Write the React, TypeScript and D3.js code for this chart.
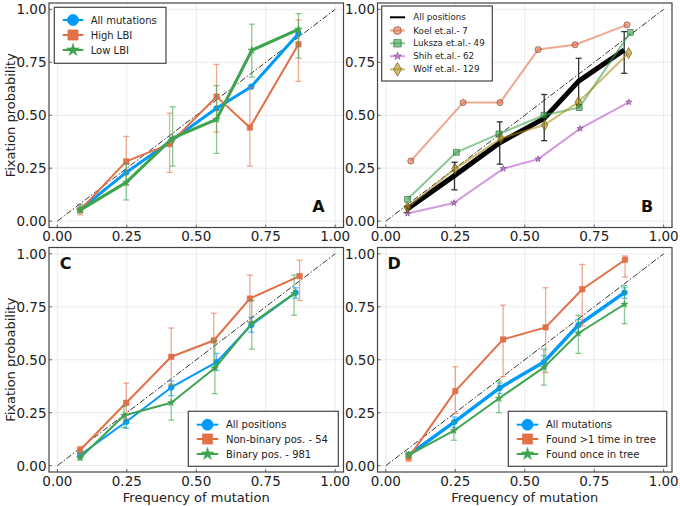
import React, { useEffect, useRef } from 'react';
import * as d3 from 'd3';

// tick values shared by every panel
const tickValues = [0, 0.25, 0.5, 0.75, 1];
const tickLabels = ['0.00', '0.25', '0.50', '0.75', '1.00'];

// Panel A
const aAllX = [0.082, 0.248, 0.41, 0.573, 0.698, 0.868];
const aAllY = [0.055, 0.23, 0.38, 0.533, 0.635, 0.886];
const aHighX = [0.082, 0.248, 0.404, 0.573, 0.693, 0.868];
const aHighY = [0.052, 0.282, 0.364, 0.588, 0.442, 0.835];
const aHighLo = [0.03, 0.17, 0.23, 0.42, 0.26, 0.66];
const aHighHi = [0.08, 0.4, 0.51, 0.74, 0.63, 0.95];
const aLowX = [0.082, 0.248, 0.415, 0.573, 0.7, 0.868];
const aLowY = [0.052, 0.183, 0.392, 0.481, 0.807, 0.906];
const aLowLo = [0.04, 0.1, 0.26, 0.32, 0.68, 0.77];
const aLowHi = [0.078, 0.27, 0.54, 0.64, 0.93, 0.98];

// Panel B
const bAllX = [0.075, 0.247, 0.41, 0.57, 0.694, 0.858];
const bAllY = [0.055, 0.215, 0.37, 0.485, 0.661, 0.808];
const bAllLo = [0.04, 0.148, 0.269, 0.38, 0.55, 0.698];
const bAllHi = [0.07, 0.278, 0.469, 0.598, 0.769, 0.895];
const bKoelX = [0.09, 0.278, 0.411, 0.548, 0.681, 0.868];
const bKoelY = [0.284, 0.56, 0.56, 0.81, 0.833, 0.927];
const bLukszaX = [0.078, 0.254, 0.407, 0.569, 0.696, 0.88];
const bLukszaY = [0.103, 0.325, 0.412, 0.5, 0.536, 0.891];
const bShihX = [0.078, 0.245, 0.423, 0.548, 0.699, 0.875];
const bShihY = [0.036, 0.086, 0.248, 0.293, 0.437, 0.562];
const bWolfX = [0.078, 0.249, 0.414, 0.572, 0.693, 0.874];
const bWolfY = [0.064, 0.247, 0.39, 0.455, 0.562, 0.794];

// Panel C
const cAllX = [0.082, 0.248, 0.41, 0.573, 0.698, 0.858];
const cAllY = [0.05, 0.207, 0.369, 0.489, 0.664, 0.817];
const cAllLo = [0.04, 0.176, 0.33, 0.45, 0.63, 0.79];
const cAllHi = [0.06, 0.24, 0.4, 0.53, 0.7, 0.84];
const cNonX = [0.082, 0.248, 0.41, 0.563, 0.693, 0.872];
const cNonY = [0.074, 0.297, 0.514, 0.591, 0.789, 0.895];
const cNonLo = [0.05, 0.22, 0.38, 0.46, 0.68, 0.78];
const cNonHi = [0.09, 0.39, 0.65, 0.72, 0.9, 0.97];
const cBinX = [0.082, 0.24, 0.41, 0.567, 0.7, 0.852];
const cBinY = [0.036, 0.237, 0.297, 0.461, 0.672, 0.812];
const cBinLo = [0.03, 0.18, 0.215, 0.34, 0.55, 0.71];
const cBinHi = [0.06, 0.28, 0.385, 0.59, 0.78, 0.9];

// Panel D
const dAllX = [0.082, 0.247, 0.41, 0.569, 0.693, 0.859];
const dAllY = [0.05, 0.207, 0.367, 0.489, 0.664, 0.817];
const dAllLo = [0.04, 0.18, 0.34, 0.46, 0.63, 0.79];
const dAllHi = [0.06, 0.23, 0.39, 0.52, 0.69, 0.84];
const dMultX = [0.082, 0.25, 0.422, 0.575, 0.707, 0.861];
const dMultY = [0.038, 0.352, 0.596, 0.653, 0.833, 0.972];
const dMultLo = [0.02, 0.246, 0.42, 0.44, 0.66, 0.89];
const dMultHi = [0.06, 0.467, 0.758, 0.84, 0.95, 0.99];
const dOnceX = [0.082, 0.245, 0.407, 0.569, 0.693, 0.859];
const dOnceY = [0.05, 0.165, 0.317, 0.464, 0.625, 0.762];
const dOnceLo = [0.04, 0.12, 0.25, 0.38, 0.53, 0.67];
const dOnceHi = [0.065, 0.21, 0.4, 0.55, 0.71, 0.85];

const BLUE = '#009afa';
const ORANGE = '#e36f47';
const GREEN = '#3ea44e';
const PURPLE = '#c271d2';
const GOLD = '#ac8e18';
const FONT = 'DejaVu Sans, sans-serif';

type Series = {
  name: string;
  xs: number[];
  ys: number[];
  lo?: number[];
  hi?: number[];
  color: string;
  width: number;
  alpha: number;
  marker: d3.SymbolType | null;
  size: number;
  legendSize: number;
  stroke?: string;
  errColor?: string;
};

type Panel = {
  box: [number, number, number, number];
  letter: string;
  letterAt: [number, number];
  yTitle: boolean;
  xTitle: boolean;
  series: Series[];
  legend: { box: [number, number, number, number]; rows: number[]; line: [number, number]; textX: number; font: number };
};

const panels: Panel[] = [
  {
    box: [49, 3, 343.5, 227.5],
    letter: 'A',
    letterAt: [0.94, 0.07],
    yTitle: true,
    xTitle: false,
    series: [
      { name: 'All mutations', xs: aAllX, ys: aAllY, color: BLUE, width: 3, alpha: 1, marker: d3.symbolCircle, size: 26, legendSize: 100 },
      { name: 'High LBI', xs: aHighX, ys: aHighY, lo: aHighLo, hi: aHighHi, color: ORANGE, width: 2, alpha: 1, marker: d3.symbolSquare, size: 30, legendSize: 105 },
      { name: 'Low LBI', xs: aLowX, ys: aLowY, lo: aLowLo, hi: aLowHi, color: GREEN, width: 3, alpha: 1, marker: d3.symbolStar, size: 18, legendSize: 50 },
    ],
    legend: { box: [54.3, 7.3, 166, 63.3], rows: [20, 35, 50], line: [62.7, 83.3], textX: 90.7, font: 10 },
  },
  {
    box: [377.5, 3, 672, 227.5],
    letter: 'B',
    letterAt: [0.94, 0.07],
    yTitle: false,
    xTitle: false,
    series: [
      { name: 'All positions', xs: bAllX, ys: bAllY, lo: bAllLo, hi: bAllHi, color: '#000', width: 5, alpha: 1, marker: null, size: 0, legendSize: 0, errColor: '#333' },
      { name: 'Koel et.al.- 7', xs: bKoelX, ys: bKoelY, color: ORANGE, width: 2, alpha: 0.6, marker: d3.symbolCircle, size: 30, legendSize: 50, stroke: '#6a3a2a' },
      { name: 'Luksza et.al.- 49', xs: bLukszaX, ys: bLukszaY, color: GREEN, width: 2, alpha: 0.6, marker: d3.symbolSquare, size: 34, legendSize: 55, stroke: '#1f5a28' },
      { name: 'Shih et.al.- 62', xs: bShihX, ys: bShihY, color: PURPLE, width: 2, alpha: 0.7, marker: d3.symbolStar, size: 12, legendSize: 18, stroke: '#6a3a74' },
      { name: 'Wolf et.al.- 129', xs: bWolfX, ys: bWolfY, color: GOLD, width: 2, alpha: 0.6, marker: d3.symbolDiamond, size: 36, legendSize: 55, stroke: '#4a3d0a' },
    ],
    legend: { box: [381.7, 6, 492.3, 81], rows: [17.3, 30.5, 43.3, 56.2, 69.3], line: [390, 405], textX: 413.3, font: 8.7 },
  },
  {
    box: [49, 247.5, 343.5, 472],
    letter: 'C',
    letterAt: [0.03, 0.955],
    yTitle: true,
    xTitle: true,
    series: [
      { name: 'All positions', xs: cAllX, ys: cAllY, lo: cAllLo, hi: cAllHi, color: BLUE, width: 2, alpha: 1, marker: d3.symbolCircle, size: 26, legendSize: 100 },
      { name: 'Non-binary pos. - 54', xs: cNonX, ys: cNonY, lo: cNonLo, hi: cNonHi, color: ORANGE, width: 2, alpha: 1, marker: d3.symbolSquare, size: 30, legendSize: 105 },
      { name: 'Binary pos. - 981', xs: cBinX, ys: cBinY, lo: cBinLo, hi: cBinHi, color: GREEN, width: 2, alpha: 1, marker: d3.symbolStar, size: 16, legendSize: 50 },
    ],
    legend: { box: [188.3, 411.3, 338.3, 466.3], rows: [424.7, 439, 454], line: [196.7, 218.3], textX: 226, font: 10 },
  },
  {
    box: [377.5, 247.5, 672, 472],
    letter: 'D',
    letterAt: [0.03, 0.955],
    yTitle: false,
    xTitle: true,
    series: [
      { name: 'All mutations', xs: dAllX, ys: dAllY, lo: dAllLo, hi: dAllHi, color: BLUE, width: 3.5, alpha: 1, marker: d3.symbolCircle, size: 26, legendSize: 100 },
      { name: 'Found >1 time in tree', xs: dMultX, ys: dMultY, lo: dMultLo, hi: dMultHi, color: ORANGE, width: 2, alpha: 1, marker: d3.symbolSquare, size: 30, legendSize: 105 },
      { name: 'Found once in tree', xs: dOnceX, ys: dOnceY, lo: dOnceLo, hi: dOnceHi, color: GREEN, width: 2, alpha: 1, marker: d3.symbolStar, size: 16, legendSize: 50 },
    ],
    legend: { box: [508.3, 411.3, 666.7, 466.3], rows: [424.7, 439, 454], line: [516.7, 538.3], textX: 546, font: 10 },
  },
];

const App = () => {
  const ref = useRef<SVGSVGElement | null>(null);

  useEffect(() => {
    const svg = d3.select(ref.current);
    svg.selectAll('*').remove();

    panels.forEach(p => {
      const [x0, y0, x1, y1] = p.box;
      const x = d3.scaleLinear().domain([-0.03, 1.03]).range([x0, x1]);
      const y = d3.scaleLinear().domain([-0.03, 1.03]).range([y1, y0]);
      const g = svg.append('g');

      // grid
      tickValues.forEach(t => {
        g.append('line').attr('x1', x(t)).attr('x2', x(t)).attr('y1', y0).attr('y2', y1)
          .attr('stroke', '#e6e6e6').attr('stroke-width', 0.8);
        g.append('line').attr('x1', x0).attr('x2', x1).attr('y1', y(t)).attr('y2', y(t))
          .attr('stroke', '#e6e6e6').attr('stroke-width', 0.8);
      });

      // diagonal y = x
      g.append('line')
        .attr('x1', x(0)).attr('y1', y(0)).attr('x2', x(1)).attr('y2', y(1))
        .attr('stroke', '#000').attr('stroke-width', 0.8)
        .attr('stroke-dasharray', '6,2,1.5,2');

      p.series.forEach(s => {
        const pts: [number, number][] = s.xs.map((v, i) => [x(v), y(s.ys[i])]);
        // error bars
        if (s.lo && s.hi) {
          const ec = s.errColor || s.color;
          const eo = s.errColor ? 1 : 0.6;
          s.xs.forEach((v, i) => {
            const cx = x(v);
            const lo = y(s.lo![i]);
            const hi = y(s.hi![i]);
            g.append('line').attr('x1', cx).attr('x2', cx).attr('y1', lo).attr('y2', hi)
              .attr('stroke', ec).attr('stroke-opacity', eo).attr('stroke-width', 1.3);
            [lo, hi].forEach(yy => {
              g.append('line').attr('x1', cx - 3).attr('x2', cx + 3).attr('y1', yy).attr('y2', yy)
                .attr('stroke', ec).attr('stroke-opacity', eo).attr('stroke-width', 1.3);
            });
          });
        }
        g.append('path')
          .attr('d', d3.line()(pts))
          .attr('fill', 'none')
          .attr('stroke', s.color)
          .attr('stroke-opacity', s.alpha)
          .attr('stroke-width', s.width)
          .attr('stroke-linejoin', 'round');
        if (s.marker) {
          const sym = d3.symbol().type(s.marker).size(s.size);
          pts.forEach(([px, py]) => {
            g.append('path')
              .attr('d', sym())
              .attr('transform', `translate(${px},${py})`)
              .attr('fill', s.color)
              .attr('fill-opacity', s.alpha)
              .attr('stroke', s.stroke || s.color)
              .attr('stroke-opacity', s.stroke ? 0.7 : 1)
              .attr('stroke-width', s.stroke ? 0.8 : 0.5);
          });
        }
      });

      // frame
      g.append('rect')
        .attr('x', x0).attr('y', y0).attr('width', x1 - x0).attr('height', y1 - y0)
        .attr('fill', 'none').attr('stroke', '#444').attr('stroke-width', 1.2);

      // tick marks and labels
      tickValues.forEach((t, i) => {
        g.append('line').attr('x1', x(t)).attr('x2', x(t)).attr('y1', y1).attr('y2', y1 - 3)
          .attr('stroke', '#444').attr('stroke-width', 0.8);
        g.append('line').attr('x1', x0).attr('x2', x0 + 3).attr('y1', y(t)).attr('y2', y(t))
          .attr('stroke', '#444').attr('stroke-width', 0.8);
        g.append('text')
          .attr('x', x(t)).attr('y', y1 + 9).attr('dy', '0.36em')
          .attr('text-anchor', 'middle')
          .attr('font-family', FONT).attr('font-size', 13.5).attr('fill', '#222')
          .text(tickLabels[i]);
        g.append('text')
          .attr('x', x0 - 2.5).attr('y', y(t)).attr('dy', '0.36em')
          .attr('text-anchor', 'end')
          .attr('font-family', FONT).attr('font-size', 13.5).attr('fill', '#222')
          .text(tickLabels[i]);
      });

      if (p.yTitle) {
        g.append('text')
          .attr('transform', `translate(10,${(y0 + y1) / 2}) rotate(-90)`)
          .attr('dy', '0.36em')
          .attr('text-anchor', 'middle')
          .attr('font-family', FONT).attr('font-size', 13).attr('fill', '#222')
          .text('Fixation probability');
      }
      if (p.xTitle) {
        g.append('text')
          .attr('x', (x0 + x1) / 2).attr('y', 497).attr('dy', '0.36em')
          .attr('text-anchor', 'middle')
          .attr('font-family', FONT).attr('font-size', 13).attr('fill', '#222')
          .text('Frequency of mutation');
      }

      // panel letter
      g.append('text')
        .attr('x', x(p.letterAt[0])).attr('y', y(p.letterAt[1])).attr('dy', '0.36em')
        .attr('text-anchor', 'middle')
        .attr('font-family', FONT).attr('font-size', 16).attr('font-weight', 'bold').attr('fill', '#111')
        .text(p.letter);

      // legend
      const L = p.legend;
      g.append('rect')
        .attr('x', L.box[0]).attr('y', L.box[1])
        .attr('width', L.box[2] - L.box[0]).attr('height', L.box[3] - L.box[1])
        .attr('fill', '#fff').attr('stroke', '#444').attr('stroke-width', 1.2);
      p.series.forEach((s, i) => {
        const ry = L.rows[i];
        g.append('line')
          .attr('x1', L.line[0]).attr('x2', L.line[1]).attr('y1', ry).attr('y2', ry)
          .attr('stroke', s.color).attr('stroke-opacity', s.alpha)
          .attr('stroke-width', s.marker ? Math.min(s.width, 2) : 2);
        if (s.marker) {
          g.append('path')
            .attr('d', d3.symbol().type(s.marker).size(s.legendSize)())
            .attr('transform', `translate(${(L.line[0] + L.line[1]) / 2},${ry})`)
            .attr('fill', s.color).attr('fill-opacity', s.alpha)
            .attr('stroke', s.stroke || s.color)
            .attr('stroke-opacity', s.stroke ? 0.7 : 1)
            .attr('stroke-width', s.stroke ? 0.8 : 0.5);
        }
        g.append('text')
          .attr('x', L.textX).attr('y', ry).attr('dy', '0.36em')
          .attr('font-family', FONT).attr('font-size', L.font).attr('fill', '#222')
          .text(s.name);
      });
    });
  }, []);

  return (
    <svg ref={ref} width={680} height={506}
      style={{ position: 'absolute', left: 0, top: 0, background: '#fff' }} />
  );
};

export default App;
